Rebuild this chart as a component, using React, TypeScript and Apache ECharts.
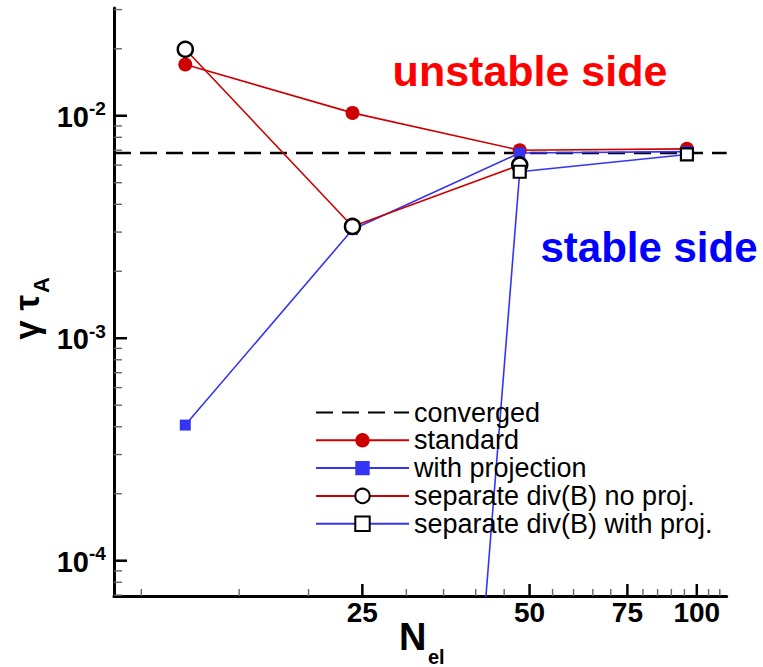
import React, { useEffect, useRef } from 'react';
import * as echarts from 'echarts';

const FONT = '"Liberation Sans", Arial, Helvetica, sans-serif';

// ---- data ----
const nEl = [12, 24, 48, 96];
const standard = [0.017, 0.0103, 0.007, 0.0071];
const withProjection = [4.07e-4, 3.08e-3, 6.8e-3, 6.9e-3];
const separateNoProj = [0.0199, 3.18e-3, 6.0e-3, null];
const separateWithProj = [null, 2e-12, 5.6e-3, 6.7e-3];
const convergedValue = 6.8e-3;

const seriesNames = [
  'converged',
  'standard',
  'with projection',
  'separate div(B) no proj.',
  'separate div(B) with proj.',
];

const xRange = [8.93, 113.2];
const yRange = [6.94e-5, 0.0305];

const xMajorTicks = [25, 50, 75, 100];
const xTickLabels = ['25', '50', '75', '100'];
const xMinorTicks = [10, 15, 20, 30, 35, 40, 45, 55, 60, 65, 70, 80, 85, 90, 95, 105, 110];
const yMajorTicks = [1e-4, 1e-3, 1e-2];
const yTickBase = '10';
const yTickExponents = ['-4', '-3', '-2'];
const yMinorTicks = [
  7e-5, 8e-5, 9e-5,
  2e-4, 3e-4, 4e-4, 5e-4, 6e-4, 7e-4, 8e-4, 9e-4,
  2e-3, 3e-3, 4e-3, 5e-3, 6e-3, 7e-3, 8e-3, 9e-3,
  2e-2, 3e-2,
];

const RED = '#cc0000';
const BLUE = '#3434f4';

function pairs(ys: (number | null)[]) {
  return nEl.map((x, i) => [x, ys[i] == null ? '-' : ys[i]]);
}

function xTickSeries(ticks: number[], len: number, width: number, color: string) {
  return {
    type: 'custom',
    silent: true,
    z: 5,
    data: ticks.map((v) => [v, yRange[0]]),
    renderItem: (_params: any, api: any) => {
      const p = api.coord([api.value(0), yRange[0]]);
      return {
        type: 'line',
        shape: { x1: p[0], y1: p[1], x2: p[0], y2: p[1] - len },
        style: { stroke: color, lineWidth: width },
      };
    },
  };
}

function yTickSeries(ticks: number[], len: number, width: number, color: string) {
  return {
    type: 'custom',
    silent: true,
    z: 5,
    data: ticks.map((v) => [xRange[0], v]),
    renderItem: (_params: any, api: any) => {
      const p = api.coord([xRange[0], api.value(1)]);
      return {
        type: 'line',
        shape: { x1: p[0], y1: p[1], x2: p[0] + len, y2: p[1] },
        style: { stroke: color, lineWidth: width },
      };
    },
  };
}

export default function App() {
  const ref = useRef<HTMLDivElement>(null);

  useEffect(() => {
    if (!ref.current) return;
    const chart = echarts.init(ref.current, undefined, { renderer: 'svg' });

    const option: any = {
      animation: false,
      backgroundColor: '#ffffff',
      grid: { left: 114, top: 8, width: 612.7, height: 588 },
      xAxis: {
        type: 'log',
        logBase: 10,
        min: xRange[0],
        max: xRange[1],
        axisLine: { show: true, lineStyle: { color: '#000', width: 3 } },
        axisTick: { show: false },
        axisLabel: { show: false },
        splitLine: { show: false },
        minorTick: { show: false },
      },
      yAxis: {
        type: 'log',
        logBase: 10,
        min: yRange[0],
        max: yRange[1],
        axisLine: { show: true, lineStyle: { color: '#000', width: 3 } },
        axisTick: { show: false },
        axisLabel: { show: false },
        splitLine: { show: false },
        minorTick: { show: false },
      },
      legend: {
        orient: 'vertical',
        left: 310,
        top: 394,
        itemWidth: 93,
        itemHeight: 18,
        itemGap: 0.8,
        selectedMode: false,
        textStyle: { color: '#000', fontSize: 27, lineHeight: 26, fontFamily: FONT },
        data: [
          { name: seriesNames[0], itemStyle: { opacity: 0 } },
          { name: seriesNames[1] },
          { name: seriesNames[2] },
          { name: seriesNames[3] },
          { name: seriesNames[4] },
        ],
      },
      series: [
        {
          name: seriesNames[0],
          type: 'line',
          data: [
            [xRange[0], convergedValue],
            [xRange[1], convergedValue],
          ],
          showSymbol: false,
          symbol: 'circle',
          itemStyle: { color: '#000', opacity: 0 },
          lineStyle: { color: '#000', width: 2.5, type: [17, 9] },
          z: 2,
        },
        {
          name: seriesNames[1],
          type: 'line',
          data: pairs(standard),
          symbol: 'circle',
          symbolSize: 14,
          itemStyle: { color: RED },
          lineStyle: { color: RED, width: 1.6 },
          z: 2,
        },
        {
          name: seriesNames[2],
          type: 'line',
          data: pairs(withProjection),
          symbol: 'rect',
          symbolSize: 11,
          itemStyle: { color: BLUE },
          lineStyle: { color: BLUE, width: 1.6 },
          z: 2,
        },
        {
          name: seriesNames[3],
          type: 'line',
          data: pairs(separateNoProj),
          symbol: 'circle',
          symbolSize: 15,
          itemStyle: { color: '#fff', borderColor: '#000', borderWidth: 2.5 },
          lineStyle: { color: RED, width: 1.6 },
          z: 2,
        },
        {
          name: seriesNames[4],
          type: 'line',
          data: pairs(separateWithProj),
          symbol: 'rect',
          symbolSize: 12,
          itemStyle: { color: '#fff', borderColor: '#000', borderWidth: 2.2 },
          lineStyle: { color: BLUE, width: 1.6 },
          z: 2,
        },
        xTickSeries(xMajorTicks, 12, 2.5, '#000'),
        xTickSeries(xMinorTicks, 7, 1.4, '#666'),
        yTickSeries(yMajorTicks, 13, 2.5, '#000'),
        yTickSeries(yMinorTicks, 8, 1.4, '#666'),
        {
          type: 'custom',
          silent: true,
          z: 5,
          data: xMajorTicks.map((v) => [v, yRange[0]]),
          renderItem: (params: any, api: any) => {
            const p = api.coord([api.value(0), yRange[0]]);
            return {
              type: 'text',
              x: p[0],
              y: p[1] + 2,
              style: {
                text: xTickLabels[params.dataIndex],
                font: `bold 28px ${FONT}`,
                fill: '#000',
                align: 'center',
                verticalAlign: 'top',
              },
            };
          },
        },
        {
          type: 'custom',
          silent: true,
          z: 5,
          data: yMajorTicks.map((v) => [xRange[0], v]),
          renderItem: (params: any, api: any) => {
            const p = api.coord([xRange[0], api.value(1)]);
            return {
              type: 'group',
              children: [
                {
                  type: 'text',
                  x: p[0] - 25,
                  y: p[1] + 1,
                  style: {
                    text: yTickBase,
                    font: `bold 29px ${FONT}`,
                    fill: '#000',
                    align: 'right',
                    verticalAlign: 'middle',
                  },
                },
                {
                  type: 'text',
                  x: p[0] - 25,
                  y: p[1] - 7,
                  style: {
                    text: yTickExponents[params.dataIndex],
                    font: `bold 19px ${FONT}`,
                    fill: '#000',
                    align: 'left',
                    verticalAlign: 'middle',
                  },
                },
              ],
            };
          },
        },
      ],
      graphic: [
        {
          type: 'text',
          x: 530,
          y: 71,
          style: {
            text: 'unstable side',
            font: `bold 43px ${FONT}`,
            fill: '#ff0000',
            align: 'center',
            verticalAlign: 'middle',
          },
        },
        {
          type: 'text',
          x: 649,
          y: 247.4,
          style: {
            text: 'stable side',
            font: `bold 42px ${FONT}`,
            fill: '#0000ff',
            align: 'center',
            verticalAlign: 'middle',
          },
        },
        {
          type: 'text',
          x: 399,
          y: 636.5,
          style: { text: 'N', font: `bold 38px ${FONT}`, fill: '#000', align: 'left', verticalAlign: 'middle' },
        },
        {
          type: 'text',
          x: 428,
          y: 656.5,
          style: { text: 'el', font: `bold 20px ${FONT}`, fill: '#000', align: 'left', verticalAlign: 'middle' },
        },
        {
          type: 'group',
          x: 30,
          y: 306,
          rotation: Math.PI / 2,
          children: [
            {
              type: 'text',
              x: 11,
              y: -4,
              style: { text: 'γ τ', font: `bold 35px ${FONT}`, fill: '#000', align: 'right', verticalAlign: 'middle' },
            },
            {
              type: 'text',
              x: 13,
              y: 11,
              style: { text: 'A', font: `bold 22px ${FONT}`, fill: '#000', align: 'left', verticalAlign: 'middle' },
            },
          ],
        },
      ],
    };

    chart.setOption(option);
    return () => chart.dispose();
  }, []);

  return (
    <div
      ref={ref}
      style={{ position: 'absolute', left: 0, top: 0, width: 763, height: 667, background: '#fff' }}
    />
  );
}
